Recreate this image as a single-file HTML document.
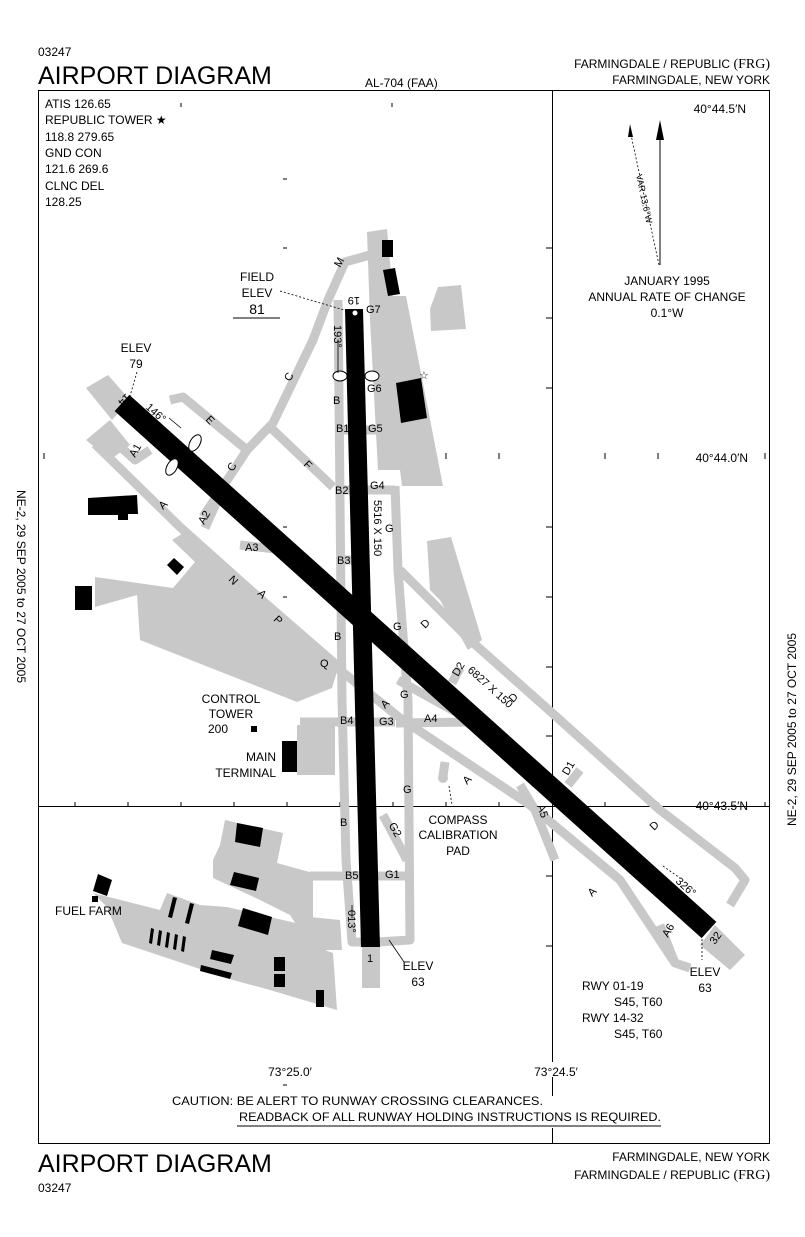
<!DOCTYPE html>
<html><head><meta charset="utf-8"><style>
html,body{margin:0;padding:0;background:#fff}
svg{display:block}
text{font-family:"Liberation Sans",sans-serif;fill:#000}
.s{font-size:11px}
.m{font-size:12px}
</style></head><body>
<svg width="805" height="1237" viewBox="0 0 805 1237" xmlns="http://www.w3.org/2000/svg">
<text x="38" y="56" class="m">03247</text>
<text x="38" y="84" font-size="25">AIRPORT DIAGRAM</text>
<text x="365" y="87" class="m">AL-704 (FAA)</text>
<text x="770" y="68" class="m" text-anchor="end">FARMINGDALE / REPUBLIC <tspan font-family="Liberation Serif" font-size="14">(FRG)</tspan></text>
<text x="770" y="84" class="m" text-anchor="end">FARMINGDALE, NEW YORK</text>
<rect x="38.5" y="90.5" width="731" height="1053" fill="none" stroke="#000" stroke-width="1"/>
<line x1="552.5" y1="90" x2="552.5" y2="1062" stroke="#000"/>
<line x1="552.5" y1="1077" x2="552.5" y2="1096" stroke="#000"/>
<line x1="552.5" y1="1128" x2="552.5" y2="1143" stroke="#000"/>
<line x1="38" y1="806.5" x2="770" y2="806.5" stroke="#000"/>
<g stroke="#000" stroke-width="1">
<line x1="75" y1="802" x2="75" y2="806"/><line x1="128" y1="802" x2="128" y2="806"/><line x1="181" y1="802" x2="181" y2="806"/><line x1="234" y1="802" x2="234" y2="806"/><line x1="287" y1="802" x2="287" y2="806"/><line x1="340" y1="802" x2="340" y2="806"/><line x1="393" y1="802" x2="393" y2="806"/><line x1="446" y1="802" x2="446" y2="806"/><line x1="499" y1="802" x2="499" y2="806"/><line x1="605" y1="802" x2="605" y2="806"/><line x1="658" y1="802" x2="658" y2="806"/><line x1="765" y1="802" x2="765" y2="806"/>
<line x1="44" y1="453" x2="44" y2="459"/><line x1="393" y1="453" x2="393" y2="459"/><line x1="446" y1="453" x2="446" y2="459"/><line x1="499" y1="453" x2="499" y2="459"/><line x1="605" y1="453" x2="605" y2="459"/><line x1="658" y1="453" x2="658" y2="459"/><line x1="765" y1="453" x2="765" y2="459"/>
<line x1="546" y1="248" x2="552" y2="248"/><line x1="546" y1="318" x2="552" y2="318"/><line x1="546" y1="388" x2="552" y2="388"/><line x1="546" y1="527" x2="552" y2="527"/><line x1="546" y1="597" x2="552" y2="597"/><line x1="546" y1="667" x2="552" y2="667"/><line x1="546" y1="736" x2="552" y2="736"/><line x1="546" y1="876" x2="552" y2="876"/><line x1="546" y1="946" x2="552" y2="946"/>
<line x1="181" y1="103" x2="181" y2="107"/><line x1="392" y1="103" x2="392" y2="107"/><line x1="283" y1="179" x2="287" y2="179"/><line x1="283" y1="248" x2="287" y2="248"/>
<line x1="283" y1="527" x2="287" y2="527"/><line x1="283" y1="597" x2="287" y2="597"/><line x1="283" y1="667" x2="287" y2="667"/>
<line x1="283" y1="945" x2="287" y2="945"/><line x1="283" y1="876" x2="287" y2="876"/><line x1="283" y1="1085" x2="287" y2="1085"/>
</g>
<g stroke="#c8c8c8" stroke-width="9" fill="none" stroke-linejoin="round">
<polyline points="95,444 180,527 340,670 400,718 530,805 620,880 675,963 690,968"/>
<polyline points="338,300 342,700 346,860 352,942 368,942"/>
<polyline points="395,486 398,570 408,700 410,940 378,942"/>
<polyline points="400,570 470,640 560,720 660,810 735,868 745,880 730,905"/>
<polyline points="203,517 247,450 273,423 313,340 328,300 345,262 370,255"/>
<polyline points="170,400 183,397 247,450"/>
<polyline points="270,427 333,487"/>
<polyline points="113,440 135,460 150,450"/>
<polyline points="205,528 222,490"/>
<polyline points="240,545 285,550"/>
<polyline points="396,723 475,722"/>
<polyline points="383,815 407,860"/>
<polyline points="310,876 410,876"/>
<polyline points="340,430 390,430"/>
<polyline points="340,490 395,490"/>
<polyline points="340,560 360,560"/>
<polyline points="300,722 395,722"/>
<polyline points="460,668 452,683"/>
<polyline points="580,770 568,785"/>
<polyline points="520,785 535,810 555,860"/>
<polyline points="660,925 675,963"/>
<polyline points="445,762 443,776"/>
<polyline points="398,680 470,720"/>
</g>
<circle cx="443" cy="778" r="5" fill="#c8c8c8"/>
<g fill="#c8c8c8">
<polygon points="86,388 108,375 130,400 112,420"/>
<polygon points="86,440 110,420 130,445 110,460"/>
<polygon points="700,945 715,925 745,955 730,970"/>
<rect x="362" y="945" width="18" height="43"/>
<polygon points="367,232 387,229 393,296 406,296 443,486 402,486 400,470 378,470 370,320"/>
<polygon points="438,287 461,285 466,329 431,331 430,309"/>
<polygon points="427,541 451,537 482,640 468,650 440,600 430,590"/>
<polygon points="95,577 173,588 195,562 172,540 188,530 340,662 332,688 297,702 140,640 137,595 95,607"/>
<polygon points="297,725 335,725 335,775 297,775"/>
<polygon points="225,820 283,833 277,863 313,873 313,920 290,915 260,900 213,878 213,860 220,845"/>
<polygon points="93,893 160,910 167,893 200,905 227,907 313,927 317,947 333,953 337,1010 270,990 233,980 122,943 107,907"/>
<polygon points="290,915 340,920 342,950 313,950"/>
</g>
<line x1="122" y1="403" x2="709" y2="930" stroke="#000" stroke-width="22"/>
<polygon points="345,309 363,309 380,947 361,947" fill="#000"/>
<circle cx="355" cy="313" r="2.5" fill="#fff"/>
<g fill="#000">
<rect x="382" y="240" width="11" height="17"/>
<polygon points="383,270 395,268 400,294 388,296"/>
<polygon points="396,383 421,378 427,418 401,423"/>
<polygon points="88,498 137,495 138,514 128,514 128,520 118,520 118,515 88,515"/>
<polygon points="167,565 174,558 184,567 177,575"/>
<rect x="75" y="586" width="17" height="24"/>
<rect x="251" y="726" width="6" height="6"/>
<rect x="282" y="741" width="15" height="31"/>
<polygon points="237,823 263,828 260,847 235,842"/>
<polygon points="234,872 259,878 256,891 230,885"/>
<polygon points="243,908 272,917 268,935 238,926"/>
<polygon points="212,950 234,955 231,964 210,959"/>
<polygon points="201,965 232,973 230,979 200,971"/>
<rect x="274" y="957" width="11" height="14"/><rect x="274" y="974" width="11" height="13"/>
<rect x="316" y="990" width="8" height="17"/>
<polygon points="98,874 112,880 107,896 93,891"/>
<rect x="92" y="896" width="6" height="6"/>
<polygon points="173,897 177,898 172,918 168,917"/><polygon points="190,903 194,904 189,924 185,923"/>
<polygon points="151,928 154,929 152,944 149,943"/><polygon points="159,930 162,931 160,946 157,945"/><polygon points="167,932 170,933 168,948 165,947"/><polygon points="175,934 178,935 176,950 173,949"/><polygon points="183,936 186,937 184,952 181,951"/>
</g>
<g fill="#fff" stroke="#000" stroke-width="1">
<ellipse cx="340" cy="376" rx="7" ry="5"/><ellipse cx="372" cy="376" rx="7" ry="5"/>
<ellipse cx="195" cy="443" rx="5" ry="9" transform="rotate(30 195 443)"/>
<ellipse cx="172" cy="467" rx="5" ry="9" transform="rotate(30 172 467)"/>
</g>
<text x="419" y="379" font-size="11">☆</text>
<g stroke="#000" stroke-width="0.8" stroke-dasharray="2,2" fill="none">
<line x1="280" y1="291" x2="344" y2="310"/>
<line x1="137" y1="372" x2="130" y2="396"/>
<line x1="389" y1="940" x2="404" y2="962" stroke-dasharray="none"/>
<line x1="702" y1="939" x2="702" y2="960"/>
<line x1="449" y1="786" x2="452" y2="805"/>
<line x1="630" y1="130" x2="659" y2="265"/>
<line x1="338" y1="340" x2="338" y2="373" stroke-dasharray="none"/>
<line x1="169" y1="418" x2="181" y2="428" stroke-dasharray="none"/>
<line x1="663" y1="866" x2="680" y2="878"/>
<line x1="352" y1="905" x2="352" y2="918" stroke-dasharray="none"/>
</g>
<line x1="660" y1="130" x2="660" y2="265" stroke="#000" stroke-width="1"/>
<polygon points="660,120 664,140 656,140" fill="#000"/>
<polygon points="630,124 633,137 628,137" fill="#000"/>
<text transform="translate(636,175) rotate(78)" font-size="9">VAR 13.6°W</text>
<g class="m">
<text x="45" y="108">ATIS 126.65</text>
<text x="45" y="124">REPUBLIC TOWER ★</text>
<text x="45" y="141">118.8  279.65</text>
<text x="45" y="157">GND CON</text>
<text x="45" y="173">121.6  269.6</text>
<text x="45" y="190">CLNC DEL</text>
<text x="45" y="206">128.25</text>
<text x="257" y="281" text-anchor="middle">FIELD</text>
<text x="257" y="297" text-anchor="middle">ELEV</text>
<text x="257" y="314" text-anchor="middle" font-size="14">81</text>
<text x="746" y="113" text-anchor="end">40°44.5′N</text>
<text x="748" y="462" text-anchor="end">40°44.0′N</text>
<text x="748" y="810" text-anchor="end">40°43.5′N</text>
<text x="667" y="285" text-anchor="middle">JANUARY 1995</text>
<text x="667" y="301" text-anchor="middle">ANNUAL RATE OF CHANGE</text>
<text x="667" y="317" text-anchor="middle">0.1°W</text>
<text x="136" y="352" text-anchor="middle">ELEV</text>
<text x="136" y="368" text-anchor="middle">79</text>
<text x="231" y="703" text-anchor="middle">CONTROL</text>
<text x="231" y="718" text-anchor="middle">TOWER</text>
<text x="218" y="733" text-anchor="middle">200</text>
<text x="276" y="761" text-anchor="end">MAIN</text>
<text x="276" y="777" text-anchor="end">TERMINAL</text>
<text x="458" y="824" text-anchor="middle">COMPASS</text>
<text x="458" y="839" text-anchor="middle">CALIBRATION</text>
<text x="458" y="855" text-anchor="middle">PAD</text>
<text x="418" y="970" text-anchor="middle">ELEV</text>
<text x="418" y="986" text-anchor="middle">63</text>
<text x="705" y="976" text-anchor="middle">ELEV</text>
<text x="705" y="992" text-anchor="middle">63</text>
<text x="55" y="915">FUEL FARM</text>
<text x="582" y="990">RWY  01-19</text>
<text x="614" y="1006">S45, T60</text>
<text x="582" y="1022">RWY  14-32</text>
<text x="614" y="1038">S45, T60</text>
<text x="290" y="1076" text-anchor="middle">73°25.0′</text>
<text x="556" y="1076" text-anchor="middle">73°24.5′</text>
<text x="172" y="1105" textLength="371" lengthAdjust="spacingAndGlyphs">CAUTION: BE ALERT TO RUNWAY CROSSING CLEARANCES.</text>
<text x="239" y="1121" textLength="422" lengthAdjust="spacingAndGlyphs">READBACK OF ALL RUNWAY HOLDING INSTRUCTIONS IS REQUIRED.</text>
</g>
<line x1="233" y1="318" x2="280" y2="318" stroke="#000"/>
<line x1="237" y1="1126" x2="661" y2="1126" stroke="#000"/>
<g class="s">
<text x="366" y="313">G7</text>
<text x="367" y="392">G6</text>
<text x="368" y="432">G5</text>
<text x="336" y="432">B1</text>
<text x="370" y="489">G4</text>
<text x="335" y="494">B2</text>
<text x="337" y="564">B3</text>
<text x="340" y="724">B4</text>
<text x="379" y="725">G3</text>
<text x="424" y="722">A4</text>
<text x="345" y="879">B5</text>
<text x="385" y="878">G1</text>
<text x="245" y="551">A3</text>
<text x="385" y="532">G</text>
<text x="393" y="630">G</text>
<text x="400" y="698">G</text>
<text x="403" y="793">G</text>
<text x="333" y="404">B</text>
<text x="334" y="640">B</text>
<text x="340" y="826">B</text>
<text x="320" y="667">Q</text>
<text x="385" y="829" transform="rotate(60 390 830)">G2</text>
<text transform="translate(205,420) rotate(45)">E</text>
<text transform="translate(290,382) rotate(-60)">C</text>
<text transform="translate(233,472) rotate(-60)">C</text>
<text transform="translate(303,465) rotate(45)">F</text>
<text transform="translate(340,268) rotate(-60)">M</text>
<text transform="translate(135,458) rotate(-60)">A1</text>
<text transform="translate(204,525) rotate(-60)">A2</text>
<text transform="translate(163,510) rotate(-45)">A</text>
<text transform="translate(228,580) rotate(45)">N</text>
<text transform="translate(257,594) rotate(45)">A</text>
<text transform="translate(273,620) rotate(45)">P</text>
<text transform="translate(385,709) rotate(-45)">A</text>
<text transform="translate(467,785) rotate(-45)">A</text>
<text transform="translate(592,897) rotate(-45)">A</text>
<text transform="translate(425,629) rotate(-45)">D</text>
<text transform="translate(513,703) rotate(-45)">D</text>
<text transform="translate(654,831) rotate(-45)">D</text>
<text transform="translate(458,677) rotate(-60)">D2</text>
<text transform="translate(568,776) rotate(-60)">D1</text>
<text transform="translate(537,806) rotate(70)">A5</text>
<text transform="translate(668,938) rotate(-60)">A6</text>
<text transform="translate(715,945) rotate(-55)">32</text>
<text transform="translate(126,393) rotate(135)">14</text>
<text transform="translate(145,408) rotate(42)">146°</text>
<text transform="translate(360,297) rotate(180)">19</text>
<text transform="translate(334,325) rotate(90)">193°</text>
<text transform="translate(348,910) rotate(90)">013°</text>
<text x="367" y="962">1</text>
<text transform="translate(675,882) rotate(42)">326°</text>
<text transform="translate(374,500) rotate(90)">5516 X 150</text>
<text transform="translate(467,671) rotate(42)">6827 X 150</text>
</g>
<text transform="translate(17,490) rotate(90)" class="m">NE-2, 29 SEP 2005 to 27 OCT 2005</text>
<text transform="translate(796,826) rotate(-90)" class="m">NE-2, 29 SEP 2005 to 27 OCT 2005</text>
<text x="38" y="1172" font-size="25">AIRPORT DIAGRAM</text>
<text x="38" y="1192" class="m">03247</text>
<text x="770" y="1161" class="m" text-anchor="end">FARMINGDALE, NEW YORK</text>
<text x="770" y="1179" class="m" text-anchor="end">FARMINGDALE / REPUBLIC <tspan font-family="Liberation Serif" font-size="14">(FRG)</tspan></text>
</svg>
</body></html>
